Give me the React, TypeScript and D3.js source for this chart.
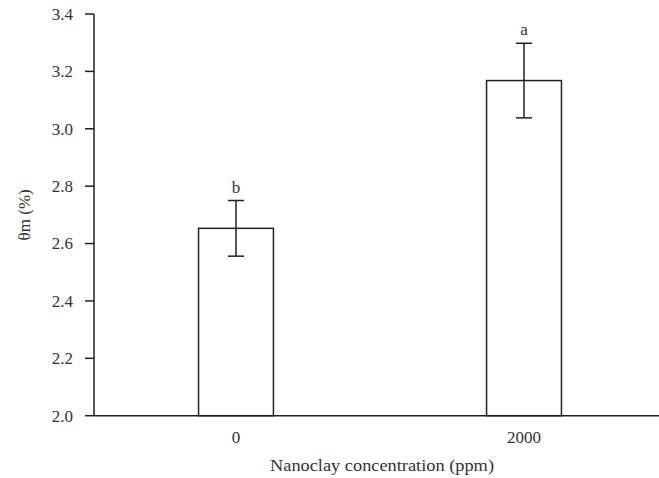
import React from 'react'
import * as d3 from 'd3'

const categories = ['0', '2000']
const means = [2.653, 3.168]
const errors = [0.097, 0.13]
const letters = ['b', 'a']
const yTicks = [2.0, 2.2, 2.4, 2.6, 2.8, 3.0, 3.2, 3.4]

const width = 659
const height = 478
const margin = { left: 94, top: 14, right: 0, bottom: 62 }
const font = '"Liberation Serif", "Times New Roman", serif'

export default function App() {
  const y = d3.scaleLinear()
    .domain([2.0, 3.4])
    .range([height - margin.bottom - 0.3, margin.top])

  const x = d3.scaleBand()
    .domain(categories)
    .range([margin.left, 666])
    .paddingInner(0.74)
    .paddingOuter(0.363)

  const baseY = y(2.0)
  const cap = 8

  return (
    <svg width={width} height={height} style={{ position: 'absolute', left: 0, top: 0, background: '#fff' }} fontFamily={font}>
      {/* bars */}
      {categories.map((c, i) => {
        const x0 = x(c) as number
        const cx = x0 + x.bandwidth() / 2
        const top = y(means[i] + errors[i])
        const bottom = y(means[i] - errors[i])
        return (
          <g key={c}>
            <rect x={x0} y={y(means[i])} width={x.bandwidth()} height={baseY - y(means[i])}
              fill="#fff" stroke="#222" strokeWidth={1.5} />
            <line x1={cx} x2={cx} y1={top} y2={bottom} stroke="#222" strokeWidth={1.5} />
            <line x1={cx - cap} x2={cx + cap} y1={top} y2={top} stroke="#222" strokeWidth={1.5} />
            <line x1={cx - cap} x2={cx + cap} y1={bottom} y2={bottom} stroke="#222" strokeWidth={1.5} />
            <text x={cx} y={top - 8} textAnchor="middle" fontSize={17} fill="#333">{letters[i]}</text>
            <text x={cx} y={443} textAnchor="middle" fontSize={17} fill="#333">{c}</text>
          </g>
        )
      })}

      {/* y axis */}
      <line x1={margin.left} x2={margin.left} y1={y(3.4)} y2={baseY} stroke="#222" strokeWidth={1.5} />
      {yTicks.map(t => (
        <g key={t}>
          <line x1={margin.left - 9} x2={margin.left} y1={y(t)} y2={y(t)} stroke="#222" strokeWidth={1.5} />
          <text x={margin.left - 21} y={y(t)} dy="0.35em" textAnchor="end" fontSize={17} fill="#333">
            {t.toFixed(1)}
          </text>
        </g>
      ))}

      {/* x axis */}
      <line x1={margin.left} x2={width} y1={baseY} y2={baseY} stroke="#222" strokeWidth={1.5} />

      <text x={382} y={471} textAnchor="middle" fontSize={17} fill="#333" textLength={224} lengthAdjust="spacingAndGlyphs">
        Nanoclay concentration (ppm)
      </text>
      <text transform={`translate(30,${(y(3.4) + baseY) / 2}) rotate(-90)`} textAnchor="middle" fontSize={17} fill="#333">
        θm (%)
      </text>
    </svg>
  )
}
